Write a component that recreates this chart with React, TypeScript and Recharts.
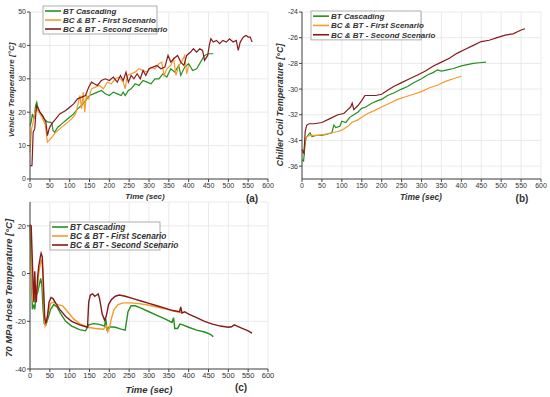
import { CartesianGrid, Line, LineChart, XAxis, YAxis } from "recharts";

const GREEN = "#23901f";
const ORANGE = "#f59a2c";
const RED = "#861a1c";

const timeTicks = [0, 50, 100, 150, 200, 250, 300, 350, 400, 450, 500, 550, 600];
const vehicleTicks = [0, 10, 20, 30, 40, 50];
const chillerTicks = [-36, -34, -32, -30, -28, -26, -24];
const hoseTicks = [-40, -20, 0, 20];

const seriesNames = ["BT Cascading", "BC & BT - First Scenario", "BC & BT - Second Scenario"];

// (a) vehicle temperature
const vehicleBT: [number, number][] = [
  [0, 16], [3, 17], [6, 19.5], [10, 18], [14, 22], [17, 23], [20, 21], [25, 20], [30, 19], [35, 18],
  [40, 17.5], [45, 17], [50, 17], [55, 16.8], [58, 14.5], [62, 14], [70, 15.5], [80, 16.5], [90, 17.5],
  [100, 18.5], [110, 19.5], [120, 21], [130, 22], [140, 23.5], [150, 25], [160, 25.5], [170, 26],
  [180, 26.5], [190, 25.5], [200, 25], [210, 26], [220, 25.5], [230, 25], [235, 26], [240, 25],
  [248, 26.5], [255, 27], [265, 28.5], [275, 28], [285, 29.5], [295, 29], [305, 28.5], [315, 30],
  [325, 30], [335, 31.5], [345, 30.5], [355, 33], [365, 32], [375, 34], [380, 31], [390, 33.5],
  [400, 34.5], [410, 32.5], [420, 33], [430, 35], [440, 37], [450, 37.5], [462, 37.5],
];
const vehicleFirst: [number, number][] = [
  [0, 8], [4, 15], [8, 17], [12, 20], [16, 21], [22, 20], [30, 18.5], [38, 16.5], [44, 11], [48, 11.5],
  [55, 12.5], [65, 14], [75, 15], [90, 16.5], [105, 18], [115, 19.5], [122, 23], [126, 25], [130, 21],
  [134, 26], [138, 20], [142, 25], [148, 24], [155, 27], [165, 27.5], [175, 28], [185, 27], [195, 29],
  [205, 28.5], [215, 30], [225, 30.5], [235, 29], [240, 27], [245, 31], [255, 31.5], [265, 32],
  [275, 33], [285, 32.5], [295, 32], [305, 33.5], [315, 33], [325, 34.5], [332, 35], [338, 31],
  [345, 33], [355, 34], [362, 36], [368, 31], [375, 34], [382, 35], [390, 37], [395, 31.5], [400, 34],
];
const vehicleSecond: [number, number][] = [
  [0, 4], [5, 4], [8, 14], [12, 15], [15, 20], [17, 22], [20, 21.5], [25, 20], [32, 19], [40, 17],
  [44, 13], [48, 15], [52, 16], [58, 17], [65, 18], [75, 19.5], [90, 20.5], [100, 21.5], [110, 22.5],
  [120, 24], [130, 24.5], [140, 25], [148, 27.5], [155, 29], [162, 28.5], [170, 28], [180, 29.5],
  [190, 30], [200, 29.5], [210, 30.5], [220, 29], [228, 31], [235, 29.5], [242, 32], [248, 29],
  [255, 31], [262, 30], [270, 31.5], [278, 30], [285, 32.5], [292, 31], [300, 33], [310, 33.5],
  [320, 34], [330, 33], [340, 33.5], [348, 37], [355, 35], [362, 36], [372, 37], [380, 35], [388, 34],
  [395, 37], [405, 38], [412, 39], [420, 38], [428, 39], [435, 38.5], [440, 35.5], [448, 37],
  [452, 40], [456, 42], [462, 41], [470, 41.5], [478, 40.5], [486, 41.5], [495, 41], [503, 42],
  [512, 41], [520, 41.5], [525, 38.5], [530, 41], [538, 42.5], [545, 43], [550, 42.5], [555, 42.5],
  [560, 41],
];

// (b) chiller coil temperature
const chillerBT: [number, number][] = [
  [0, -35.5], [4, -35.6], [7, -34.5], [10, -33.8], [15, -33.6], [20, -33.4], [25, -33.7], [35, -33.6],
  [50, -33.6], [65, -33.5], [75, -33.4], [80, -32.8], [85, -33], [95, -32.9], [100, -32.5],
  [110, -32.6], [120, -32.2], [130, -32], [140, -31.8], [150, -31.5], [160, -31.4], [175, -31.1],
  [190, -30.9], [200, -30.8], [215, -30.5], [230, -30.3], [250, -30], [265, -29.8], [280, -29.5],
  [300, -29.2], [315, -28.9], [330, -28.7], [340, -28.5], [350, -28.6], [365, -28.5], [380, -28.4],
  [400, -28.2], [415, -28.1], [430, -28], [445, -27.95], [462, -27.9],
];
const chillerFirst: [number, number][] = [
  [0, -35], [5, -34.8], [8, -34], [12, -33.7], [20, -33.6], [40, -33.6], [60, -33.5], [75, -33.4],
  [90, -33.3], [100, -33.2], [115, -32.9], [125, -32.6], [140, -32.4], [150, -32.2], [165, -31.9],
  [180, -31.7], [200, -31.4], [220, -31.1], [240, -30.8], [260, -30.6], [280, -30.4], [300, -30.2],
  [320, -29.9], [340, -29.7], [360, -29.4], [380, -29.2], [400, -29],
];
const chillerSecond: [number, number][] = [
  [0, -34.7], [5, -35], [8, -33.3], [12, -32.8], [18, -32.7], [30, -32.7], [50, -32.6], [70, -32.3],
  [90, -32], [105, -31.9], [115, -31.6], [122, -31.4], [126, -31.1], [130, -31.6], [140, -31.3],
  [150, -30.9], [158, -30.5], [170, -30.5], [185, -30.5], [200, -30.4], [215, -30.1], [230, -29.8],
  [250, -29.5], [270, -29.2], [290, -28.9], [310, -28.6], [330, -28.2], [350, -27.9], [370, -27.6],
  [390, -27.2], [410, -26.9], [430, -26.6], [450, -26.3], [470, -26.2], [490, -26], [510, -25.8],
  [530, -25.7], [550, -25.4], [560, -25.3],
];

// (c) 70 MPa hose temperature
const hoseBT: [number, number][] = [
  [0, 20], [3, 5], [6, -15], [9, -13], [12, -15], [15, -9], [19, -8], [23, -5], [27, -2], [30, -5],
  [33, -15], [36, -21], [40, -21.5], [45, -19], [52, -15], [60, -13], [68, -14], [78, -17], [90, -20],
  [105, -22], [125, -23.5], [140, -24], [148, -21.5], [160, -21], [175, -21.3], [188, -22], [191, -19],
  [194, -23.5], [200, -22.3], [215, -22.5], [230, -23.3], [240, -23.7], [247, -16], [255, -13.5],
  [265, -13.5], [280, -14.5], [300, -16], [320, -17.5], [340, -19], [358, -20.5], [362, -18.5],
  [365, -23], [372, -23], [378, -21.2], [385, -21.5], [400, -22.5], [420, -23.7], [440, -24.5],
  [455, -25.5], [462, -26.5],
];
const hoseFirst: [number, number][] = [
  [0, 20], [3, 15], [5, -5], [8, -12], [11, -10], [14, -5], [18, -8], [22, 0], [26, 4], [29, 6],
  [32, 2], [35, -15], [38, -22], [41, -21], [46, -16], [52, -12.5], [60, -12], [70, -13], [82, -13.5],
  [95, -16], [110, -19], [125, -21], [145, -22.5], [165, -23], [185, -23.3], [192, -22], [196, -24.5],
  [200, -23], [205, -19], [212, -15], [222, -13], [235, -12.3], [255, -12.3], [275, -12.6],
  [300, -13.3], [325, -14.2], [350, -15.2], [370, -16], [385, -16.5],
];
const hoseSecond: [number, number][] = [
  [0, 20.5], [3, 20], [6, 5], [8, -5], [10, -12], [12, 1], [14, -8], [16, -12], [19, -2], [22, 3],
  [26, 7], [28, 8.5], [31, 7], [34, -5], [37, -18], [40, -21], [44, -18], [48, -12], [53, -10],
  [58, -10.5], [65, -12.5], [75, -15], [90, -18], [105, -20], [125, -21.5], [145, -22.5], [148, -12],
  [152, -9], [158, -8.5], [163, -9.5], [168, -9], [172, -8.5], [176, -11], [182, -17], [188, -19.5],
  [192, -18], [198, -13], [205, -11], [215, -9.5], [225, -9], [240, -9.5], [260, -10.5], [280, -11.5],
  [300, -12.5], [320, -13.5], [340, -14.5], [360, -15.5], [377, -16], [380, -14], [383, -16.5],
  [390, -16], [400, -17], [420, -18.5], [440, -20], [460, -21.2], [480, -22], [500, -22.5],
  [508, -22.3], [515, -21.5], [522, -22], [535, -23], [550, -24], [560, -25],
];

const toRows = (pts: [number, number][]) => pts.map(([t, v]) => ({ t, v }));

const FONT = "'Liberation Sans', Arial, sans-serif";

function Panel({
  left,
  top,
  width,
  height,
  margin,
  yWidth,
  domain,
  yTicks,
  series,
  fontSize,
  strokeWidth,
}: {
  left: number;
  top: number;
  width: number;
  height: number;
  margin: { top: number; right: number; bottom: number; left: number };
  yWidth: number;
  domain: [number, number];
  yTicks: number[];
  series: [number, number][][];
  fontSize: number;
  strokeWidth: number;
}) {
  const colors = [GREEN, ORANGE, RED];
  const tick = { fontSize, fill: "#333", fontFamily: FONT };
  return (
    <div style={{ position: "absolute", left, top }}>
      <LineChart width={width} height={height} margin={margin}>
        <CartesianGrid stroke="#e4e4e4" strokeWidth={0.8} />
        <XAxis
          type="number"
          dataKey="t"
          domain={[0, 600]}
          ticks={timeTicks}
          interval={0}
          tick={tick}
          tickSize={3}
          tickMargin={1}
          height={14}
          stroke="#444"
          allowDuplicatedCategory={false}
        />
        <YAxis
          type="number"
          dataKey="v"
          domain={domain}
          ticks={yTicks}
          interval={0}
          tick={tick}
          tickSize={3}
          tickMargin={1}
          width={yWidth}
          stroke="#444"
        />
        {series.map((s, i) => (
          <Line
            key={i}
            data={toRows(s)}
            dataKey="v"
            type="linear"
            stroke={colors[i]}
            strokeWidth={strokeWidth}
            dot={false}
            isAnimationActive={false}
          />
        ))}
      </LineChart>
    </div>
  );
}

function LegendBox({ x, y, w, rowGap, fontSize }: { x: number; y: number; w: number; rowGap: number; fontSize: number }) {
  const colors = [GREEN, ORANGE, RED];
  const h = rowGap * 3 + 1;
  return (
    <g>
      <rect x={x} y={y} width={w} height={h} fill="rgba(255,255,255,0.85)" stroke="#9a9a9a" strokeWidth={0.8} />
      {seriesNames.map((n, i) => {
        const cy = y + rowGap * (i + 0.5) + 0.5;
        return (
          <g key={n}>
            <line x1={x + 2} x2={x + 18} y1={cy} y2={cy} stroke={colors[i]} strokeWidth={1.6} />
            <text
              x={x + 20}
              y={cy + fontSize * 0.35}
              fontSize={fontSize}
              fontWeight="bold"
              fontStyle="italic"
              fill="#333"
              fontFamily={FONT}
            >
              {n}
            </text>
          </g>
        );
      })}
    </g>
  );
}

export default function App() {
  const title = { fontWeight: "bold", fontStyle: "italic", fill: "#333", fontFamily: FONT } as const;
  return (
    <div style={{ position: "absolute", left: 0, top: 0, width: 550, height: 397, background: "#fff" }}>
      <Panel
        left={0}
        top={0}
        width={275}
        height={197}
        margin={{ top: 12, right: 7, bottom: 4, left: 8 }}
        yWidth={22}
        domain={[0, 50]}
        yTicks={vehicleTicks}
        series={[vehicleBT, vehicleFirst, vehicleSecond]}
        fontSize={7}
        strokeWidth={1.2}
      />
      <Panel
        left={275}
        top={0}
        width={275}
        height={197}
        margin={{ top: 12, right: 9, bottom: 4, left: 4 }}
        yWidth={23}
        domain={[-37, -24]}
        yTicks={chillerTicks}
        series={[chillerBT, chillerFirst, chillerSecond]}
        fontSize={7}
        strokeWidth={1.2}
      />
      <Panel
        left={0}
        top={190}
        width={275}
        height={197}
        margin={{ top: 12, right: 7, bottom: 4, left: 8 }}
        yWidth={22}
        domain={[-40, 30]}
        yTicks={hoseTicks}
        series={[hoseBT, hoseFirst, hoseSecond]}
        fontSize={7.5}
        strokeWidth={1.4}
      />
      <svg width={550} height={397} style={{ position: "absolute", left: 0, top: 0, pointerEvents: "none" }}>
        <LegendBox x={43} y={6} w={114} rowGap={9} fontSize={8} />
        <LegendBox x={311} y={11} w={110} rowGap={9.3} fontSize={8} />
        <LegendBox x={50} y={222} w={110} rowGap={9} fontSize={8.3} />

        <text {...title} fontSize={8} textAnchor="middle" transform="translate(14,90) rotate(-90)">
          Vehicle Temperature [°C]
        </text>
        <text {...title} fontSize={9} textAnchor="middle" transform="translate(283,105) rotate(-90)">
          Chiller Coil Temperature [°C]
        </text>
        <text {...title} fontSize={9.5} textAnchor="middle" transform="translate(12,288) rotate(-90)">
          70 MPa Hose Temperature [°C]
        </text>

        <text {...title} fontSize={8} textAnchor="middle" x={145} y={199}>
          Time (sec)
        </text>
        <text {...title} fontSize={8.5} textAnchor="middle" x={421} y={200}>
          Time (sec)
        </text>
        <text {...title} fontSize={9.5} textAnchor="middle" x={149} y={393}>
          Time (sec)
        </text>

        <text {...title} fontStyle="normal" fontSize={10} textAnchor="middle" x={252} y={202}>
          (a)
        </text>
        <text {...title} fontStyle="normal" fontSize={10} textAnchor="middle" x={522} y={202}>
          (b)
        </text>
        <text {...title} fontStyle="normal" fontSize={10} textAnchor="middle" x={241} y={391}>
          (c)
        </text>
      </svg>
    </div>
  );
}
